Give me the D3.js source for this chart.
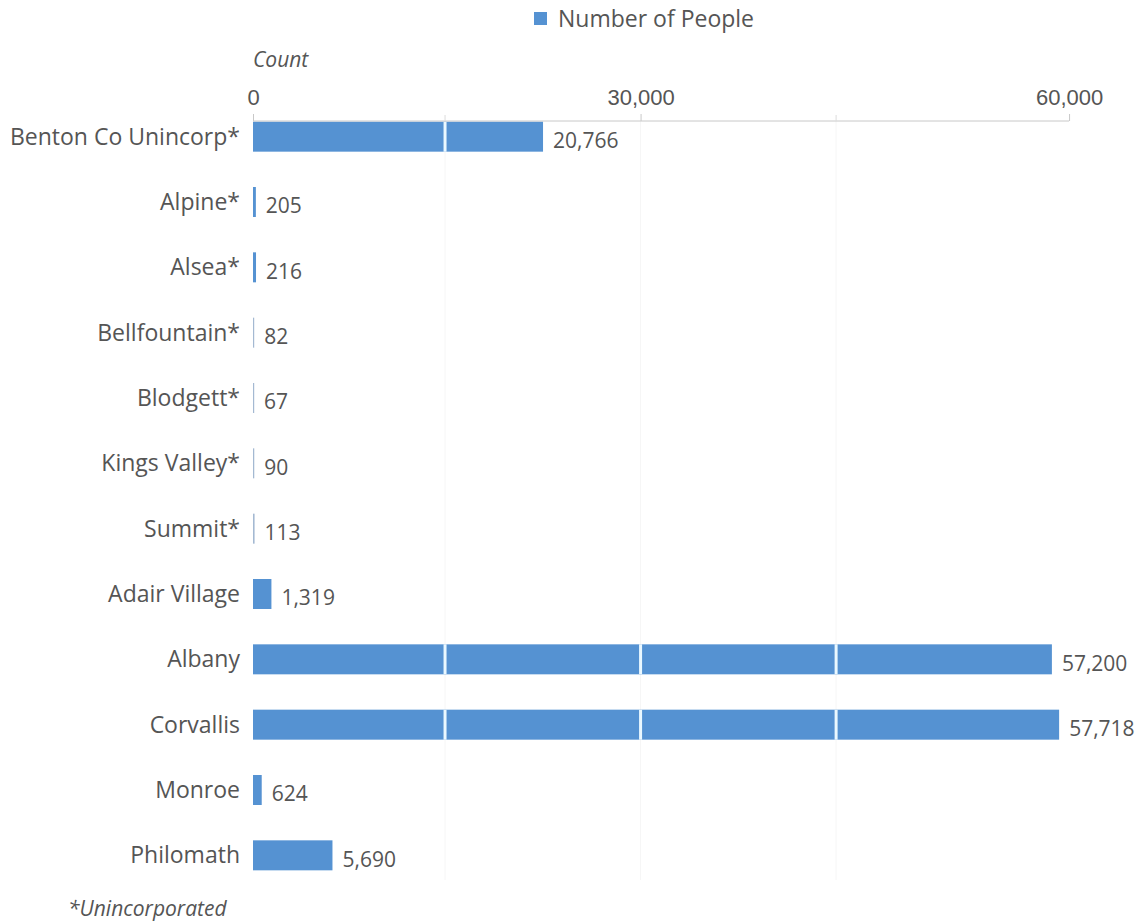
<!DOCTYPE html>
<html>
<head>
<meta charset="utf-8">
<script src="https://cdn.jsdelivr.net/npm/d3@7"></script>
<style>
  html, body { margin: 0; padding: 0; background: #fff; }
  svg { display: block; font-family: "Open Sans", "Noto Sans", sans-serif; }
</style>
</head>
<body>
<svg id="chart" width="1136" height="924"></svg>
<script>
// Population by place, Benton County area
const places = [
  "Benton Co Unincorp*", "Alpine*", "Alsea*", "Bellfountain*", "Blodgett*",
  "Kings Valley*", "Summit*", "Adair Village", "Albany", "Corvallis",
  "Monroe", "Philomath"
];
const people = [20766, 205, 216, 82, 67, 90, 113, 1319, 57200, 57718, 624, 5690];

// Axis ticks as printed, and the gridline positions
const tickValues = [0, 27750, 58430];
const tickLabels = ["0", "30,000", "60,000"];
const gridValues = [13750, 27750, 41750];

const seriesName = "Number of People";
const axisTitle = "Count";
const footnote = "*Unincorporated";

const svg = d3.select("#chart");
const barColor = "#5592d2";
const textColor = "#555555";

const x = d3.scaleLinear().domain([0, 60000]).range([253, 1091]);
const y = d3.scaleBand().domain(places).range([104, 888]).paddingInner(0.54).paddingOuter(0.27);

const barY = d => y(d) + (y.bandwidth() - 30) / 2;
const barW = (d, i) => Math.max(1.2, x(people[i]) - x(0));

// very faint gridlines behind the bars
svg.append("g").selectAll("line").data(gridValues).join("line")
  .attr("x1", d => x(d)).attr("x2", d => x(d))
  .attr("y1", 121).attr("y2", 880)
  .attr("stroke", "#f6f6f6").attr("stroke-width", 1);

// bars, also reused as a clip so the gridlines show through them
const defs = svg.append("defs");
defs.append("clipPath").attr("id", "barClip")
  .selectAll("rect").data(places).join("rect")
  .attr("x", x(0)).attr("y", barY).attr("width", barW).attr("height", 30);

svg.append("g").selectAll("rect").data(places).join("rect")
  .attr("x", x(0))
  .attr("y", barY)
  .attr("width", barW)
  .attr("height", 30)
  .attr("fill", (d, i) => people[i] < 150 ? "#a4b9d2" : barColor);

svg.append("g").attr("clip-path", "url(#barClip)")
  .selectAll("line").data(gridValues).join("line")
  .attr("x1", d => x(d)).attr("x2", d => x(d))
  .attr("y1", 121).attr("y2", 880)
  .attr("stroke", "#eaf8ff").attr("stroke-width", 3);

// top axis
const axis = d3.axisTop(x)
  .tickValues(tickValues)
  .tickFormat((d, i) => tickLabels[i])
  .tickSize(7)
  .tickPadding(6);
const axisG = svg.append("g").attr("transform", "translate(0,121)").call(axis);
axisG.select(".domain").attr("stroke", "#c8c8c8").attr("d", `M${x(0)},0H${x(tickValues[2])}`);
axisG.selectAll(".tick line").attr("stroke", "#c8c8c8");
axisG.selectAll(".tick text")
  .attr("fill", textColor).style("font-size", "22px").attr("dy", "-3");
// small minor ticks at the gridlines
axisG.selectAll(".minor").data(gridValues.filter(v => v !== 27750)).join("line")
  .attr("x1", d => x(d)).attr("x2", d => x(d)).attr("y1", -6).attr("y2", 0)
  .attr("stroke", "#dcdcdc");

// category labels
svg.append("g").selectAll("text").data(places).join("text")
  .attr("x", 240)
  .attr("y", d => y(d) + y.bandwidth() / 2)
  .attr("dy", "0.35em")
  .attr("text-anchor", "end")
  .attr("fill", textColor)
  .style("font-size", "23px")
  .text(d => d);

// value labels
svg.append("g").selectAll("text").data(places).join("text")
  .attr("x", (d, i) => x(people[i]) + 10)
  .attr("y", d => y(d) + y.bandwidth() / 2 + 4)
  .attr("dy", "0.35em")
  .attr("fill", textColor)
  .style("font-size", "21px")
  .text((d, i) => d3.format(",")(people[i]));

// legend
svg.append("rect").attr("x", 534).attr("y", 12).attr("width", 13).attr("height", 13).attr("fill", barColor);
svg.append("text").attr("x", 558).attr("y", 19).attr("dy", "0.35em")
  .attr("fill", textColor).style("font-size", "23px").text(seriesName);

// axis title
svg.append("text").attr("x", 253).attr("y", 60).attr("dy", "0.35em")
  .attr("fill", textColor).style("font-size", "21px").style("font-style", "italic").text(axisTitle);

// footnote
svg.append("text").attr("x", 68).attr("y", 909).attr("dy", "0.35em")
  .attr("fill", textColor).style("font-size", "21px").style("font-style", "italic").text(footnote);
</script>
</body>
</html>
